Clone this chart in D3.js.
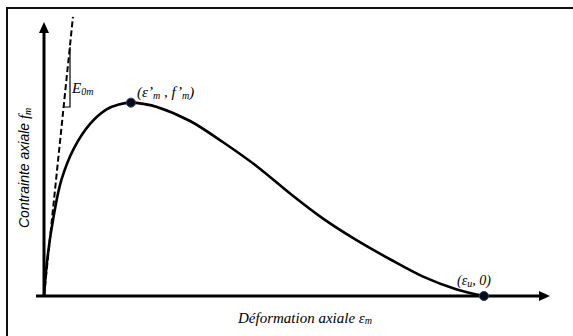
<!DOCTYPE html>
<html>
<head>
    <meta charset="utf-8">
    <title>Courbe contrainte-deformation</title>
    <script src="https://d3js.org/d3.v7.min.js"></script>
    <style type="text/css">
        body { margin: 0; background: #fff; }
        .serif { font-family: "Liberation Serif", "DejaVu Serif", serif; font-style: italic; }
        .sans { font-family: "Liberation Sans", Arial, sans-serif; font-style: italic; }
    </style>
</head>
<body>
    <script type="text/javascript">
        // normalised curve: strain / eps'm and stress / f'm
        let strain = [0, 0.04, 0.11, 0.2, 0.34, 0.53, 0.72, 0.86, 1.0, 1.15, 1.3, 1.68, 2.06, 2.45, 2.83, 3.21, 3.59, 3.98, 4.36, 4.74, 5.06];
        let stress = [0, 0.2, 0.41, 0.6, 0.76, 0.89, 0.965, 0.99, 1.0, 0.993, 0.978, 0.905, 0.795, 0.67, 0.53, 0.4, 0.29, 0.19, 0.1, 0.035, 0];
        // initial tangent (E0m)
        let tangentX = [0, 0.333];
        let tangentY = [0, 1.443];
        // marked points
        let keyX = [1.0, 5.06];
        let keyY = [1.0, 0];

        let width = 573, height = 336;

        let svg = d3.select("body").append("svg")
            .attr("width", width)
            .attr("height", height);

        let x = d3.scaleLinear().domain([0, 5.82]).range([44, 550]);
        let y = d3.scaleLinear().domain([0, 1.417]).range([296, 22]);

        // frame (cut off on right and bottom)
        svg.append("rect")
            .attr("x", 7).attr("y", 8)
            .attr("width", 600).attr("height", 400)
            .style("fill", "none")
            .style("stroke", "#111")
            .style("stroke-width", 2);

        // tangent, dashed
        let line = d3.line().x(d => x(d[0])).y(d => y(d[1]));
        svg.append("path")
            .attr("d", line(d3.zip(tangentX, tangentY)))
            .style("fill", "none")
            .style("stroke", "#000")
            .style("stroke-width", 2)
            .style("stroke-dasharray", "6,3");

        // axes
        svg.append("line")
            .attr("x1", x(0)).attr("y1", y(0) + 1)
            .attr("x2", x(0)).attr("y2", y.range()[1] + 8)
            .style("stroke", "#000").style("stroke-width", 3);
        svg.append("path")
            .attr("d", `M${x(0)},${y.range()[1]} l-5,11 l10,0 z`)
            .style("fill", "#000");
        svg.append("line")
            .attr("x1", x(0) - 8).attr("y1", y(0))
            .attr("x2", x.range()[1] - 8).attr("y2", y(0))
            .style("stroke", "#000").style("stroke-width", 3);
        svg.append("path")
            .attr("d", `M${x.range()[1]},${y(0)} l-11,-5 l0,10 z`)
            .style("fill", "#000");

        // E0m bracket
        svg.append("path")
            .attr("d", "M70,47 L70,107 L63,107")
            .style("fill", "none")
            .style("stroke", "#000")
            .style("stroke-width", 1.2);

        // the curve
        let curve = d3.line()
            .x(d => x(d[0])).y(d => y(d[1]))
            .curve(d3.curveCatmullRom.alpha(0.5));
        svg.append("path")
            .attr("d", curve(d3.zip(strain, stress)))
            .style("fill", "none")
            .style("stroke", "#000")
            .style("stroke-width", 2.6);

        svg.selectAll("circle.key")
            .data(d3.zip(keyX, keyY))
            .join("circle")
            .attr("class", "key")
            .attr("cx", d => x(d[0]))
            .attr("cy", d => y(d[1]))
            .attr("r", 4.5)
            .style("fill", "#0a0a14")
            .style("stroke", "#1f3b73")
            .style("stroke-width", 1);

        // labels
        let e0 = svg.append("text").attr("class", "serif")
            .attr("x", 72).attr("y", 93).style("font-size", "15px");
        e0.append("tspan").text("E");
        e0.append("tspan").attr("dy", 2).style("font-size", "10px").text("0m");

        let peak = svg.append("text").attr("class", "serif")
            .attr("x", 137).attr("y", 97).style("font-size", "15px");
        peak.append("tspan").text("(\u03b5\u2019");
        peak.append("tspan").attr("dy", 2).style("font-size", "10px").text("m");
        peak.append("tspan").attr("dy", -2).text(" , f\u2019");
        peak.append("tspan").attr("dy", 2).style("font-size", "10px").text("m");
        peak.append("tspan").attr("dy", -2).text(")");

        let ult = svg.append("text").attr("class", "serif")
            .attr("x", 457).attr("y", 285).style("font-size", "14px");
        ult.append("tspan").text("(\u03b5");
        ult.append("tspan").attr("dy", 2).style("font-size", "10px").text("u");
        ult.append("tspan").attr("dy", -2).text(", 0)");

        let xt = svg.append("text").attr("class", "serif")
            .attr("x", 238).attr("y", 323).style("font-size", "15px");
        xt.append("tspan").text("D\u00e9formation axiale \u03b5");
        xt.append("tspan").attr("dy", 1).style("font-size", "10px").text("m");

        let yt = svg.append("text")
            .attr("transform", "translate(29,228) rotate(-90)")
            .style("font-size", "14px");
        yt.append("tspan").attr("class", "sans").text("Contrainte axiale ");
        yt.append("tspan").attr("class", "serif").style("font-size", "15px").text("f");
        yt.append("tspan").attr("class", "serif").attr("dy", 2).style("font-size", "10px").text("m");
    </script>
</body>
</html>
